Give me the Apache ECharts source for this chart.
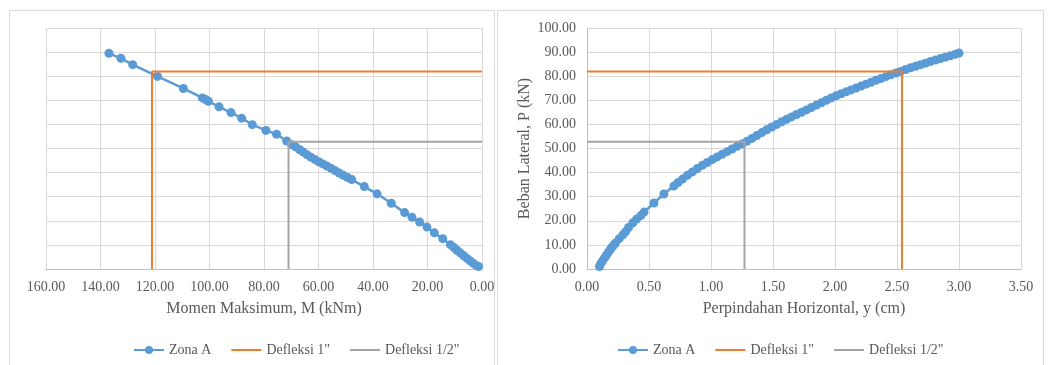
<!DOCTYPE html>
<html>
<head>
<meta charset="utf-8">
<script src="https://cdn.jsdelivr.net/npm/echarts@6/dist/echarts.min.js"></script>
<style>
html,body{margin:0;padding:0;background:#fff;}
#chart{width:1053px;height:365px;}
</style>
</head>
<body>
<div id="chart"></div>
<script>
// ---- Left chart: Momen Maksimum M (kNm) vs Beban Lateral P (kN)
var leftM = [136.9,132.5,128.2,119.1,109.6,102.6,101.4,100.4,96.5,92.1,88.2,84.3,79.3,75.4,71.7,
  69.8,68.4,67.0,65.6,64.2,62.8,61.3,59.9,58.4,56.9,55.4,53.9,52.4,50.9,49.4,47.8,
  43.2,38.5,33.3,28.4,25.7,22.9,20.2,17.5,14.4,11.6,10.4,9.2,8.0,6.8,5.6,4.4,3.2,2.1,1.2];
var leftP = [89.5,87.4,84.8,79.9,74.9,71.0,70.3,69.6,67.3,64.9,62.6,59.9,57.5,55.9,53.1,
  51.6,50.7,49.6,48.5,47.4,46.4,45.4,44.5,43.6,42.7,41.8,40.8,39.8,38.9,38.0,37.1,
  34.2,31.2,27.3,23.4,21.5,19.5,17.4,15.0,12.6,10.1,9.0,7.8,6.7,5.6,4.5,3.4,2.4,1.5,1.0];

// ---- Right chart: Perpindahan Horizontal y (cm) vs Beban Lateral P (kN)
var rightY = [0.10,0.11,0.125,0.14,0.155,0.17,0.185,0.20,0.215,0.23,0.26,0.29,0.31,0.335,0.37,0.40,0.435,0.46,
  0.54,0.62,0.70,0.735,0.77,0.81,0.85,0.89,0.93,0.97,1.01,1.05,1.09,1.13,1.17,1.21,1.25,1.29,
  1.33,1.37,1.41,1.45,1.49,1.53,1.57,1.61,1.65,1.69,1.73,1.77,1.81,1.85,1.89,1.93,1.97,
  2.01,2.05,2.09,2.13,2.17,2.21,2.25,2.29,2.33,2.37,2.41,2.45,2.49,2.53,2.57,2.61,2.65,
  2.69,2.73,2.77,2.81,2.85,2.89,2.93,2.97,3.00];
var rightP = [1.0,2.2,3.3,4.5,5.6,6.8,7.9,9.0,9.9,10.8,12.6,14.2,15.4,17.2,19.2,20.7,22.2,23.6,
  27.4,31.1,34.4,35.9,37.3,38.9,40.3,41.7,43.0,44.2,45.4,46.5,47.6,48.7,49.8,50.9,51.9,53.0,
  54.2,55.4,56.6,57.8,58.9,60.0,61.1,62.1,63.1,64.1,65.0,66.0,67.0,68.0,69.0,70.0,71.0,
  71.9,72.7,73.5,74.3,75.1,75.9,76.7,77.5,78.3,79.0,79.8,80.6,81.3,82.0,82.8,83.5,84.1,
  84.8,85.4,86.1,86.7,87.3,87.9,88.5,89.1,89.6];

// ---- Deflection guide lines
var defl1M = [0, 121.1, 121.1];
var defl2M = [0, 71.0, 71.0];
var defl1Y = [0, 2.54, 2.54];
var defl2Y = [0, 1.27, 1.27];
var defl1P = [82.0, 82.0, 0];
var defl2P = [52.8, 52.8, 0];

var seriesNames = ['Zona A', 'Defleksi 1"', 'Defleksi 1/2"'];
var leftXTitle = 'Momen Maksimum, M (kNm)';
var rightXTitle = 'Perpindahan Horizontal, y (cm)';
var rightYTitle = 'Beban Lateral, P (kN)';

function zip(a, b) { return a.map(function (v, i) { return [v, b[i]]; }); }

var FONT = '"Liberation Serif", "Times New Roman", serif';
var TXT = '#595959';
var GRID = '#d9d9d9';
var BLUE = '#5B9BD5', ORANGE = '#ED7D31', GRAY = '#A5A5A5';

var chart = echarts.init(document.getElementById('chart'), null, {renderer: 'canvas'});

function fmt(v) { return v.toFixed(2); }

var blueSeries = function (idx, data) {
  return {
    name: seriesNames[0], type: 'line', xAxisIndex: idx, yAxisIndex: idx, data: data,
    symbol: 'circle', symbolSize: 9, showSymbol: true,
    itemStyle: {color: BLUE}, lineStyle: {color: BLUE, width: 2.5}, z: 2
  };
};
var guideSeries = function (idx, name, color, data) {
  return {
    name: name, type: 'line', xAxisIndex: idx, yAxisIndex: idx, data: data,
    symbol: 'none', showSymbol: false,
    itemStyle: {color: color}, lineStyle: {color: color, width: 2}, z: 3
  };
};

var legendBase = {
  data: [
    {name: seriesNames[0]},
    {name: seriesNames[1], itemStyle: {opacity: 0}},
    {name: seriesNames[2], itemStyle: {opacity: 0}}
  ],
  top: 338, itemWidth: 30, itemHeight: 10, itemGap: 19,
  textStyle: {fontFamily: FONT, fontSize: 14, color: TXT}
};

var option = {
  animation: false,
  backgroundColor: '#fff',
  graphic: [
    {type: 'rect', shape: {x: 9.5, y: 10.5, width: 485, height: 370}, style: {fill: 'none', stroke: GRID, lineWidth: 1}, silent: true},
    {type: 'rect', shape: {x: 497.5, y: 10.5, width: 546, height: 370}, style: {fill: 'none', stroke: GRID, lineWidth: 1}, silent: true}
  ],
  grid: [
    {left: 46, top: 28, width: 436, height: 241},
    {left: 587, top: 28, width: 434, height: 241}
  ],
  xAxis: [
    {
      gridIndex: 0, type: 'value', min: 0, max: 160, interval: 20, inverse: true,
      name: leftXTitle, nameLocation: 'middle', nameGap: 32,
      nameTextStyle: {fontFamily: FONT, fontSize: 16, color: TXT},
      axisLine: {show: true, lineStyle: {color: '#bfbfbf'}},
      axisTick: {show: false},
      axisLabel: {fontFamily: FONT, fontSize: 14, color: TXT, margin: 11, formatter: fmt},
      splitLine: {show: true, lineStyle: {color: GRID}}
    },
    {
      gridIndex: 1, type: 'value', min: 0, max: 3.5, interval: 0.5,
      name: rightXTitle, nameLocation: 'middle', nameGap: 32,
      nameTextStyle: {fontFamily: FONT, fontSize: 16, color: TXT},
      axisLine: {show: true, lineStyle: {color: '#bfbfbf'}},
      axisTick: {show: false},
      axisLabel: {fontFamily: FONT, fontSize: 14, color: TXT, margin: 11, formatter: fmt},
      splitLine: {show: true, lineStyle: {color: GRID}}
    }
  ],
  yAxis: [
    {
      gridIndex: 0, type: 'value', min: 0, max: 100, interval: 10, position: 'right',
      axisLine: {show: true, onZero: false, lineStyle: {color: GRID}},
      axisTick: {show: false},
      axisLabel: {show: false},
      splitLine: {show: true, lineStyle: {color: GRID}}
    },
    {
      gridIndex: 1, type: 'value', min: 0, max: 100, interval: 10,
      name: rightYTitle, nameLocation: 'middle', nameGap: 54, nameRotate: 90,
      nameTextStyle: {fontFamily: FONT, fontSize: 16, color: TXT},
      axisLine: {show: true, onZero: false, lineStyle: {color: '#bfbfbf'}},
      axisTick: {show: false},
      axisLabel: {fontFamily: FONT, fontSize: 14, color: TXT, margin: 11, formatter: fmt},
      splitLine: {show: true, lineStyle: {color: GRID}}
    }
  ],
  legend: [
    Object.assign({}, legendBase, {left: 128}),
    Object.assign({}, legendBase, {left: 612})
  ],
  series: [
    blueSeries(0, zip(leftM, leftP)),
    guideSeries(0, seriesNames[1], ORANGE, zip(defl1M, defl1P)),
    guideSeries(0, seriesNames[2], GRAY, zip(defl2M, defl2P)),
    blueSeries(1, zip(rightY, rightP)),
    guideSeries(1, seriesNames[1], ORANGE, zip(defl1Y, defl1P)),
    guideSeries(1, seriesNames[2], GRAY, zip(defl2Y, defl2P))
  ]
};
chart.setOption(option);
</script>
</body>
</html>
